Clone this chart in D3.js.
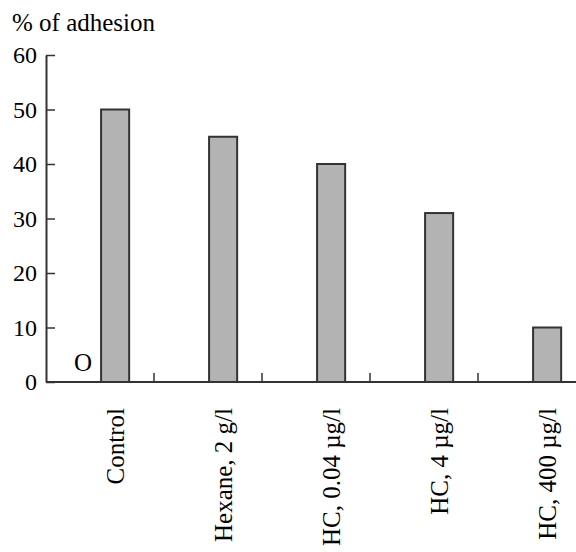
<!DOCTYPE html>
<html><head><meta charset="utf-8">
<script src="https://cdn.jsdelivr.net/npm/d3@7"></script>
<style>body{margin:0;background:#fff}svg{display:block}
svg text{font-family:"Liberation Serif","Tinos","Times New Roman","DejaVu Serif","Noto Serif",serif !important;}
</style>
</head><body>
<script>
const categories = ["Control", "Hexane, 2 g/l", "HC, 0.04 µg/l", "HC, 4 µg/l", "HC, 400 µg/l"];
const values = [50, 45, 40, 31, 10];
const yTicks = [0, 10, 20, 30, 40, 50, 60];
const yTitle = "% of adhesion";

const W = 576, H = 552;
const svg = d3.select("body").append("svg").attr("width", W).attr("height", H);

const x = d3.scaleBand().domain(categories).range([46, 586]).paddingInner(0).paddingOuter(0);
const y = d3.scaleLinear().domain([0, 60]).range([382, 55]);
const bw = x.bandwidth();

// bars
svg.selectAll("rect.bar").data(categories).join("rect")
  .attr("class", "bar")
  .attr("x", d => x(d) + bw * 0.51)
  .attr("width", bw * 0.26)
  .attr("y", (d, i) => y(values[i]))
  .attr("height", (d, i) => y(0) - y(values[i]))
  .attr("fill", "#b3b3b3").attr("stroke", "#333").attr("stroke-width", 2);

// y axis
const yAx = svg.append("g").attr("transform", "translate(46,0)")
  .call(d3.axisLeft(y).tickValues(yTicks).tickSizeInner(-9).tickSizeOuter(0).tickPadding(9));
yAx.attr("font-family", null);
yAx.select(".domain").attr("stroke", "#333").attr("stroke-width", 2);
yAx.selectAll(".tick line").attr("stroke", "#333").attr("stroke-width", 1.5);
yAx.selectAll(".tick text").attr("font-size", 24).attr("fill", "#000");

// x axis line and separator ticks
svg.append("line").attr("x1", 46).attr("x2", 576).attr("y1", y(0)).attr("y2", y(0))
  .attr("stroke", "#333").attr("stroke-width", 2);
svg.selectAll("line.sep").data(categories.slice(1)).join("line")
  .attr("class", "sep")
  .attr("x1", d => x(d)).attr("x2", d => x(d))
  .attr("y1", y(0)).attr("y2", y(0) - 9)
  .attr("stroke", "#333").attr("stroke-width", 1.5);

// category labels
svg.selectAll("text.cat").data(categories).join("text")
  .attr("class", "cat")
  .attr("transform", d => `translate(${x(d) + bw * 0.64},408) rotate(-90)`)
  .attr("text-anchor", "end").attr("dy", "0.35em")
  .attr("font-size", 25).attr("fill", "#000")
  .text(d => d);

// title
svg.append("text").attr("x", 12).attr("y", 31).attr("font-size", 25).attr("fill", "#000").text(yTitle);

// "O" marker
svg.append("text").attr("x", 83).attr("y", 371).attr("text-anchor", "middle")
  .attr("font-size", 25).attr("fill", "#000").text("O");
</script>
</body></html>
